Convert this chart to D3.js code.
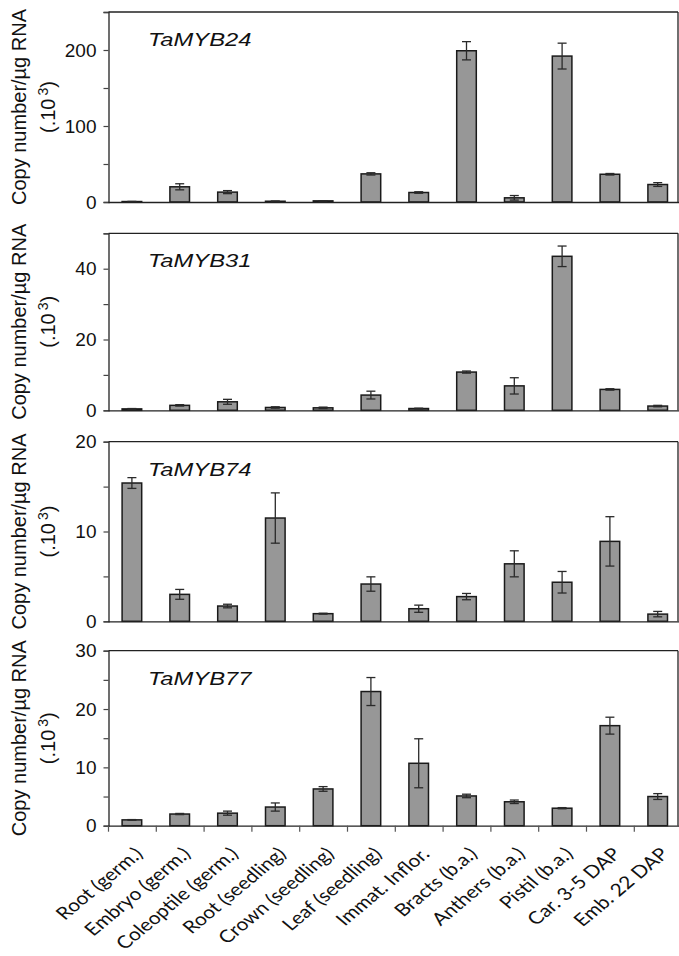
<!DOCTYPE html>
<html lang="en">
<head>
<meta charset="UTF-8">
<title>TaMYB copy number by tissue</title>
<script src="https://d3js.org/d3.v7.min.js"></script>
<style>
  body { margin: 0; background: #fff; }
  svg { display: block; }
  .tick-label { font-family: "Liberation Sans", Arial, sans-serif; font-size: 19px; fill: #111; }
  .y-title { font-family: "Liberation Sans", Arial, sans-serif; font-size: 20px; fill: #111; }
  .gene { font-family: "Liberation Sans", Arial, sans-serif; font-size: 19px; font-style: italic; fill: #111; }
  .cat { font-family: Lato, "Open Sans", sans-serif; font-size: 17.5px; fill: #111; }
</style>
</head>
<body>
<svg id="chart" width="679" height="956"></svg>
<script>
  // tissues along the x axis
  const categories = ["Root (germ.)", "Embryo (germ.)", "Coleoptile (germ.)", "Root (seedling)",
    "Crown (seedling)", "Leaf (seedling)", "Immat. Inflor.", "Bracts (b.a.)",
    "Anthers (b.a.)", "Pistil (b.a.)", "Car. 3-5 DAP", "Emb. 22 DAP"];

  const genes = ["TaMYB24", "TaMYB31", "TaMYB74", "TaMYB77"];

  // copy number / µg RNA (x10^3), mean and error
  const myb24    = [0.6, 20, 13, 1, 1.5, 37, 12.5, 199, 5.5, 192, 36.5, 23];
  const myb24Err = [0.2, 4, 2, 0.3, 0.3, 1.5, 1, 12, 3, 17, 1, 2.5];
  const myb31    = [0.4, 1.4, 2.4, 0.8, 0.7, 4.3, 0.5, 10.8, 6.9, 43.5, 5.9, 1.2];
  const myb31Err = [0.1, 0.2, 0.7, 0.2, 0.2, 1.1, 0.1, 0.3, 2.3, 2.9, 0.2, 0.2];
  const myb74    = [15.4, 3.0, 1.7, 11.5, 0.85, 4.15, 1.4, 2.75, 6.4, 4.35, 8.9, 0.8];
  const myb74Err = [0.6, 0.55, 0.2, 2.8, 0.05, 0.8, 0.4, 0.35, 1.45, 1.2, 2.75, 0.3];
  const myb77    = [1.0, 2.0, 2.15, 3.2, 6.3, 23, 10.7, 5.1, 4.1, 3.0, 17.15, 5.0];
  const myb77Err = [0.05, 0.1, 0.35, 0.7, 0.4, 2.4, 4.2, 0.3, 0.3, 0.1, 1.45, 0.5];

  const values = [myb24, myb31, myb74, myb77];
  const errors = [myb24Err, myb31Err, myb74Err, myb77Err];

  // y axis: max, minor step, labelled ticks
  const yMax = [250, 50, 20, 30];
  const yStep = [50, 10, 5, 5];
  const yTickLabels = [[0, 100, 200], [0, 20, 40], [0, 10, 20], [0, 10, 20, 30]];

  const svg = d3.select("#chart");
  const panelTop = [12, 233.3, 441.7, 650.7];
  const panelBottom = [202, 410.3, 621.3, 825.7];
  const left = 108.5, rightBorder = 678;

  const x = d3.scaleBand()
    .domain(categories)
    .range([108, 681.6])
    .padding(0);
  const barW = x.bandwidth() * 0.41;
  const xEdge = d3.scaleLinear().domain([0, categories.length]).range(x.range());

  genes.forEach((gene, p) => {
    const y = d3.scaleLinear()
      .domain([0, yMax[p]])
      .range([panelBottom[p], panelTop[p]]);
    const g = svg.append("g");
    const data = categories.map((c, i) => ({ c, v: values[p][i], e: errors[p][i] }));

    // frame: top and right
    g.append("line")
      .attr("x1", left).attr("x2", rightBorder)
      .attr("y1", y(yMax[p])).attr("y2", y(yMax[p]))
      .attr("stroke", "#222").attr("stroke-width", 1.3);
    g.append("line")
      .attr("x1", rightBorder).attr("x2", rightBorder)
      .attr("y1", y(yMax[p])).attr("y2", y(0))
      .attr("stroke", "#222").attr("stroke-width", 1.3);

    // bars
    g.selectAll("rect.bar")
      .data(data)
      .enter().append("rect")
      .attr("class", "bar")
      .attr("x", d => x(d.c) + x.bandwidth() / 2 - barW / 2)
      .attr("y", d => y(d.v))
      .attr("width", barW)
      .attr("height", d => y(0) - y(d.v))
      .attr("fill", "#979797")
      .attr("stroke", "#1a1a1a")
      .attr("stroke-width", 1.5);

    // error bars
    const eb = g.selectAll("g.err")
      .data(data)
      .enter().append("g")
      .attr("class", "err")
      .attr("stroke", "#2a2a2a")
      .attr("stroke-width", 1.3);
    const cx = d => x(d.c) + x.bandwidth() / 2;
    eb.append("line")
      .attr("x1", cx).attr("x2", cx)
      .attr("y1", d => y(d.v + d.e)).attr("y2", d => y(Math.max(0, d.v - d.e)));
    eb.append("line")
      .attr("x1", d => cx(d) - 4.5).attr("x2", d => cx(d) + 4.5)
      .attr("y1", d => y(d.v + d.e)).attr("y2", d => y(d.v + d.e));
    eb.append("line")
      .attr("x1", d => cx(d) - 4.5).attr("x2", d => cx(d) + 4.5)
      .attr("y1", d => y(Math.max(0, d.v - d.e))).attr("y2", d => y(Math.max(0, d.v - d.e)));

    // y axis
    const yAxis = g.append("g")
      .attr("transform", `translate(${left},0)`)
      .call(d3.axisLeft(y)
        .tickValues(d3.range(0, yMax[p] + yStep[p] / 2, yStep[p]))
        .tickSize(5)
        .tickPadding(7)
        .tickFormat(v => yTickLabels[p].includes(v) ? v : ""));
    yAxis.select(".domain").attr("stroke", "#222").attr("stroke-width", 1.3);
    yAxis.selectAll(".tick line").attr("stroke", "#444").attr("stroke-width", 1.2);
    yAxis.selectAll(".tick text").attr("class", "tick-label").attr("font-family", null).attr("font-size", null);
    yAxis.attr("font-family", null).attr("font-size", null);

    // x axis line (ticks only on the bottom panel)
    const last = p === genes.length - 1;
    const xAxis = g.append("g")
      .attr("transform", `translate(0,${y(0)})`)
      .call(d3.axisBottom(xEdge)
        .tickValues(last ? d3.range(0, categories.length) : [])
        .tickSize(last ? 6 : 0)
        .tickSizeOuter(0)
        .tickFormat(""));
    xAxis.select(".domain").attr("stroke", "#222").attr("stroke-width", 1.3);
    xAxis.selectAll(".tick line").attr("stroke", "#555").attr("stroke-width", 1.2);

    // gene name
    g.append("text")
      .attr("class", "gene")
      .attr("transform", `translate(148,${panelTop[p] + 34}) scale(1.25,1)`)
      .text(gene);

    // y title
    const cy = (panelTop[p] + panelBottom[p]) / 2;
    g.append("text")
      .attr("class", "y-title")
      .attr("text-anchor", "middle")
      .attr("transform", `translate(26,${cy}) rotate(-90)`)
      .text("Copy number/µg RNA");
    const t2 = g.append("text")
      .attr("class", "y-title")
      .attr("text-anchor", "middle")
      .attr("transform", `translate(55,${cy}) rotate(-90)`);
    t2.append("tspan").text("(.10");
    t2.append("tspan").attr("dx", 3).attr("dy", -7).attr("font-size", 14).text("3");
    t2.append("tspan").attr("dy", 7).text(")");

    if (last) {
      g.selectAll("text.cat")
        .data(categories)
        .enter().append("text")
        .attr("class", "cat")
        .attr("text-anchor", "end")
        .attr("transform", d => `translate(${x(d) + x.bandwidth() / 2 + 12},855) scale(1.2,1) rotate(-45)`)
        .text(d => d);
    }
  });
</script>
</body>
</html>
